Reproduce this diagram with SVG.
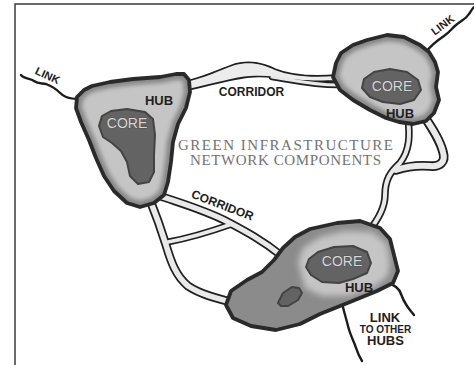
<svg xmlns="http://www.w3.org/2000/svg" xmlns:xlink="http://www.w3.org/1999/xlink" width="474" height="365" viewBox="0 0 474 365">
  <style>
    .lbl { font-family: "Liberation Sans", Arial, sans-serif; font-weight: bold; fill: #1e1e1e; text-anchor: middle; }
    .core-txt { font-family: "Liberation Sans", Arial, sans-serif; font-size: 14px; fill: #d8d8d8; stroke: #3a3a3a; stroke-width: 0.5; paint-order: stroke; text-anchor: middle; }
    .title { font-family: "Liberation Serif", "Times New Roman", serif; font-size: 15px; fill: #727272; text-anchor: middle; }
    .link { fill: none; stroke: #1c1c1c; stroke-width: 2.4; stroke-linecap: round; stroke-linejoin: round; }
    .ol { fill: none; stroke: #1f1f1f; stroke-linecap: round; stroke-linejoin: round; }
    .lt { fill: none; stroke: #e9e9e9; stroke-linecap: round; stroke-linejoin: round; }
    .border { fill: none; stroke: #2a2a2a; stroke-width: 3.8; stroke-linejoin: round; }
    .core { fill: #636363; stroke: #434343; stroke-width: 2; stroke-linejoin: round; }
  </style>
  <defs>
    <filter id="soft" x="-20%" y="-20%" width="140%" height="140%">
      <feGaussianBlur stdDeviation="2"/>
    </filter>
    <filter id="softer" x="-20%" y="-20%" width="140%" height="140%">
      <feGaussianBlur stdDeviation="3"/>
    </filter>

    <!-- hub outlines -->
    <path id="hubW" d="M77,97 L84,90 L92,86 L110,82 L133,79 L160,77 L176,74 L184,74 L189,80 L190,92 L186,108 L178,124 L173,142 L171,162 L168,182 L164,195 L154,203 L140,207 L127,203 L114,191 L104,176 L96,158 L89,140 L81,122 L76,108 Z"/>
    <path id="hubNE" d="M333,77 L336,63 L341,53 L353,45 L367,40 L387,35 L404,37 L420,45 L429,52 L435,62 L438,72 L436,87 L439,100 L434,113 L426,121 L413,124 L399,122 L386,118 L370,110 L353,100 L340,90 Z"/>
    <path id="hubS" d="M226,305 L231,291 L247,280 L262,272 L274,260 L283,248 L295,237 L310,229 L337,223 L360,221 L380,228 L390,239 L394,255 L398,271 L393,283 L377,291 L350,302 L320,314 L300,324 L276,330 L251,326 L233,318 Z"/>
    <clipPath id="clipW"><use xlink:href="#hubW"/></clipPath>
    <clipPath id="clipNE"><use xlink:href="#hubNE"/></clipPath>
    <clipPath id="clipS"><use xlink:href="#hubS"/></clipPath>

    <!-- corridor strands -->
    <path id="cTop1" d="M186,82 C205,78 220,70 235,65 C250,61 262,64 275,70 C290,76 310,78 336,76 L336,80 C315,81 300,80 290,79 C275,76 262,75 250,76 C235,77 215,83 188,89 Z"/>
    <path id="cTop2" d="M272,77 C292,80 312,85 338,85"/>
    <path id="cEa" d="M408,118 C410,135 410,150 400,163 C390,172 385,180 385,195 C385,208 378,220 368,232"/>
    <path id="cEb" d="M424,116 C432,128 440,140 443,152 C446,162 440,167 430,166 C418,165 408,166 396,170"/>
    <path id="cSW1" d="M160,196 C180,203 205,210 228,222 C245,231 262,240 282,256"/>
    <path id="cSWb" d="M232,224 C215,230 195,237 168,242"/>
    <path id="cSW2" d="M150,200 C156,215 162,232 166,245 C171,262 176,276 188,286 C200,294 215,298 235,303"/>
  </defs>

  <rect width="474" height="365" fill="#ffffff"/>
  <path d="M15,365 L15,4 L474,4" fill="none" stroke="#3a3a3a" stroke-width="1.5"/>

  <!-- corridors and links -->
  <g id="connectors">
    <g id="corridor-outlines">
      <use xlink:href="#cTop1" fill="#1f1f1f" stroke="#1f1f1f" stroke-width="3.4" stroke-linejoin="round"/>
      <use xlink:href="#cTop2" class="ol" stroke-width="6.4"/>
      <use xlink:href="#cEa" class="ol" stroke-width="7.4"/>
      <use xlink:href="#cEb" class="ol" stroke-width="9.6"/>
      <use xlink:href="#cSW1" class="ol" stroke-width="8.6"/>
      <use xlink:href="#cSWb" class="ol" stroke-width="7"/>
      <use xlink:href="#cSW2" class="ol" stroke-width="9"/>
    </g>
    <g id="corridor-fills">
      <use xlink:href="#cTop1" fill="#ececec"/>
      <use xlink:href="#cTop2" class="lt" stroke-width="3"/>
      <use xlink:href="#cEa" class="lt" stroke-width="4"/>
      <use xlink:href="#cEb" class="lt" stroke-width="6"/>
      <use xlink:href="#cSW1" class="lt" stroke-width="5.2"/>
      <use xlink:href="#cSWb" class="lt" stroke-width="3.6"/>
      <use xlink:href="#cSW2" class="lt" stroke-width="5.6"/>
    </g>
    <path class="link" d="M21,75 C24,79 30,78 34,81 C38,84 42,83 46,84 C51,86 55,88 59,92 C63,96 67,99 80,99"/>
    <path class="link" d="M426,52 C432,44 438,40 444,36 C450,32 452,28 456,25 C462,20 466,19 469,14 C471,11 472,9 474,7"/>
    <path class="link" d="M388,283 C395,285 399,288 401,294 C403,300 405,303 407,306 C409,309 411,311 414,315"/>
    <path class="link" d="M342,303 C344,312 346,318 348,326 C350,334 353,340 355,345 C357,351 358,355 362,361"/>
  </g>

  <!-- western hub -->
  <g id="hub-west">
    <use xlink:href="#hubW" fill="#c5c5c5"/>
    <g clip-path="url(#clipW)">
      <use xlink:href="#hubW" fill="none" stroke="#878787" stroke-width="12" filter="url(#soft)"/>
    </g>
    <use xlink:href="#hubW" class="border"/>
    <path class="core" d="M99,126 L102,116 L111,111 L127,109 L145,112 L153,119 L155,135 L154,155 L154,172 L149,182 L138,184 L130,176 L127,162 L121,151 L112,143 L103,137 Z"/>
    <text class="core-txt" x="127" y="128">CORE</text>
    <text class="lbl" x="159" y="105" font-size="13">HUB</text>
  </g>

  <!-- north-east hub -->
  <g id="hub-northeast">
    <use xlink:href="#hubNE" fill="#c5c5c5"/>
    <g clip-path="url(#clipNE)">
      <use xlink:href="#hubNE" fill="none" stroke="#878787" stroke-width="12" filter="url(#soft)"/>
    </g>
    <use xlink:href="#hubNE" class="border"/>
    <path class="core" d="M362,88 L364,79 L374,72 L390,69 L407,72 L418,80 L421,90 L414,100 L400,104 L383,102 L370,97 Z"/>
    <text class="core-txt" x="392" y="91">CORE</text>
    <text class="lbl" x="400" y="118" font-size="13">HUB</text>
  </g>

  <!-- southern hub -->
  <g id="hub-south">
    <use xlink:href="#hubS" fill="#8b8b8b"/>
    <g clip-path="url(#clipS)">
      <path d="M298,262 L303,248 L320,237 L345,231 L372,232 L386,243 L390,260 L388,276 L374,287 L348,296 L322,296 L305,288 Z" fill="#c5c5c5" filter="url(#softer)"/>
    </g>
    <use xlink:href="#hubS" class="border"/>
    <path class="core" d="M306,267 L309,259 L318,252 L334,247 L353,246 L367,252 L371,263 L367,273 L353,279 L339,283 L322,282 L311,275 Z"/>
    <path class="core" d="M278,303 L283,293 L292,287 L299,288 L302,293 L298,300 L288,306 L281,306 Z"/>
    <text class="core-txt" x="342" y="266">CORE</text>
    <text class="lbl" x="359" y="292" font-size="13">HUB</text>
  </g>

  <!-- labels -->
  <g id="labels">
    <text class="title" x="285.5" y="150" textLength="215" lengthAdjust="spacing">GREEN INFRASTRUCTURE</text>
    <text class="title" x="285.5" y="165" textLength="191" lengthAdjust="spacing">NETWORK COMPONENTS</text>
    <text class="lbl" x="251.5" y="95.5" font-size="12">CORRIDOR</text>
    <text class="lbl" font-size="12" transform="translate(221,209) rotate(21)">CORRIDOR</text>
    <text class="lbl" font-size="11" transform="translate(46,79) rotate(25)">LINK</text>
    <text class="lbl" font-size="11" transform="translate(445,28) rotate(-37)">LINK</text>
    <text class="lbl" x="385" y="322" font-size="13">LINK</text>
    <text class="lbl" x="385.5" y="332.5" font-size="10">TO OTHER</text>
    <text class="lbl" x="385.5" y="345" font-size="13">HUBS</text>
  </g>
</svg>
